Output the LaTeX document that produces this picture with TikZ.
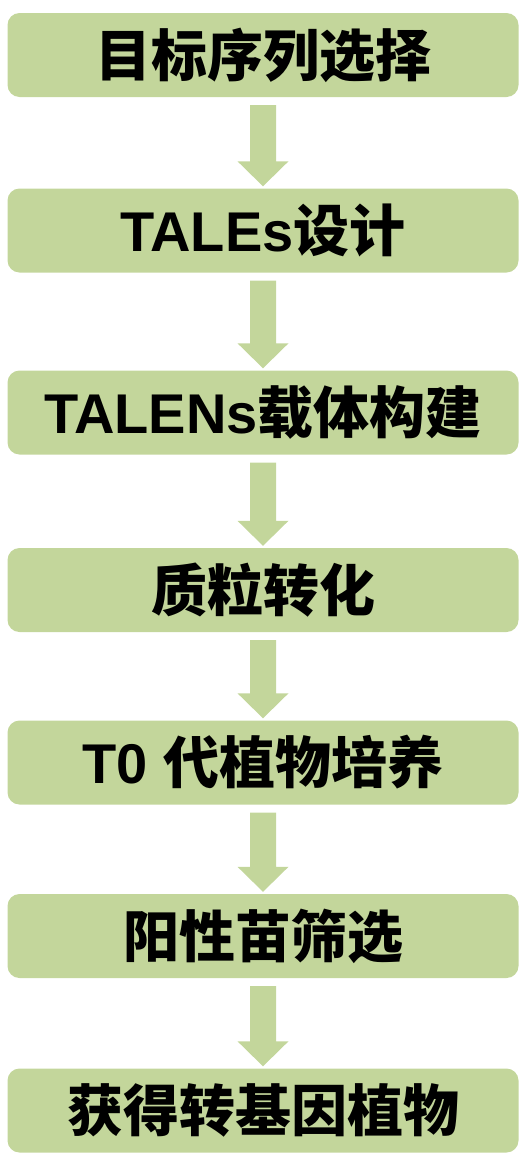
\documentclass[tikz,border=0pt]{standalone}
\usepackage{fontspec}
\usetikzlibrary{calc}
\newfontfamily\cjk{Noto Sans CJK SC}
\newfontfamily\lat{Liberation Sans}
\definecolor{boxgreen}{RGB}{195,214,155}
\tikzset{
  stepbox/.style={fill=boxgreen, rounded corners=12pt, minimum width=511pt, minimum height=84pt, inner sep=0pt, text=black, font=\fontsize{56}{60}\selectfont\bfseries},
  flowarrow/.style={fill=boxgreen, draw=none}
}
\newcommand{\flowarr}[2]{%
  \path[flowarrow] let \p1=(#1.south), \p2=(#2.north) in
    (\x1-13pt,\y1-8pt) -- (\x1+13pt,\y1-8pt) -- (\x1+13pt,\y2+27pt) -- (\x1+25.5pt,\y2+27pt)
    -- (\x1,\y2+2pt) -- (\x1-25.5pt,\y2+27pt) -- (\x1-13pt,\y2+27pt) -- cycle;}
\begin{document}
\begin{tikzpicture}[x=1pt,y=-1pt]
\useasboundingbox (0,0) rectangle (528,1154);
\node[stepbox] (b1) at (263,55) {\cjk 目标序列选择};
\node[stepbox] (b2) at (263,230.5) {\lat TALEs\cjk 设计};
\node[stepbox] (b3) at (263,412.5) {\lat TALENs\cjk 载体构建};
\node[stepbox] (b4) at (263,590) {\cjk 质粒转化};
\node[stepbox] (b5) at (263,762.5) {\lat T0 \cjk 代植物培养};
\node[stepbox] (b6) at (263,936) {\cjk 阳性苗筛选};
\node[stepbox] (b7) at (263,1110.5) {\cjk 获得转基因植物};
\flowarr{b1}{b2}
\flowarr{b2}{b3}
\flowarr{b3}{b4}
\flowarr{b4}{b5}
\flowarr{b5}{b6}
\flowarr{b6}{b7}
\end{tikzpicture}
\end{document}
